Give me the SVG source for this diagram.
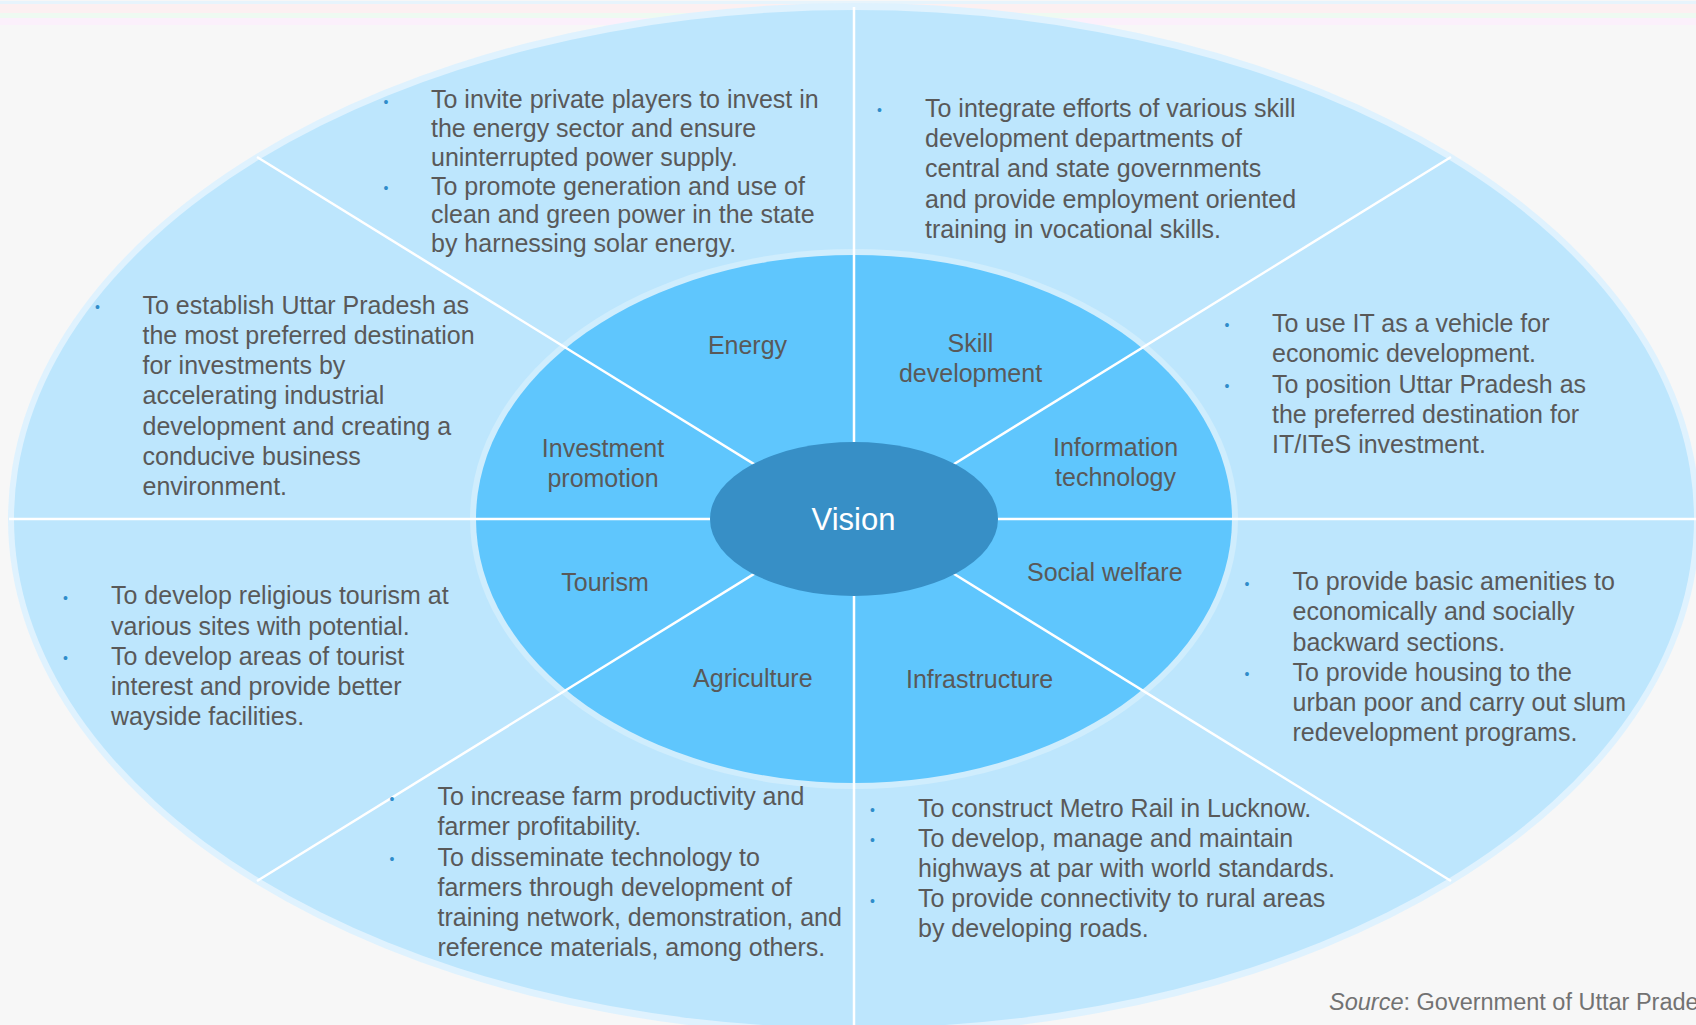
<svg xmlns="http://www.w3.org/2000/svg" width="1696" height="1025" viewBox="0 0 1696 1025">
  <defs>
    <style>
      .body { font-family: "Liberation Sans", Arial, sans-serif; font-size: 25px; fill: #595959; }
      .lbl { font-family: "Liberation Sans", Arial, sans-serif; font-size: 25px; fill: #595959; text-anchor: middle; }
      .dot { font-family: "Liberation Sans", Arial, sans-serif; font-size: 14px; fill: #2f8cca; text-anchor: middle; }
      .divider { stroke: #ffffff; stroke-width: 2.5; fill: none; }
      .src { font-family: "Liberation Sans", Arial, sans-serif; font-size: 23.5px; fill: #727272; }
    </style>
  </defs>

  <!-- page background and header stripes -->
  <rect x="0" y="0" width="1696" height="1025" fill="#f7f7f7"/>
  <rect x="0" y="1" width="1696" height="3" fill="#e7f4fc"/>
  <rect x="0" y="4" width="1696" height="9" fill="#fcf0f1"/>
  <rect x="0" y="13" width="1696" height="5" fill="#eefaf1"/>
  <rect x="0" y="18" width="1696" height="7" fill="#fbf0fb"/>

  <!-- outer ring -->
  <g id="outer-ring">
    <ellipse cx="854" cy="519" rx="846" ry="516" fill="#dff2fe"/>
    <ellipse cx="854" cy="519" rx="840" ry="509" fill="#bde6fd"/>
  </g>

  <!-- middle ring -->
  <g id="middle-ring">
    <ellipse cx="854" cy="519" rx="384" ry="270" fill="#cfedfd"/>
    <ellipse cx="854" cy="519" rx="378" ry="264" fill="#5fc6fd"/>
  </g>

  <!-- sector dividers -->
  <g id="connectors">
    <line class="divider" x1="854" y1="7" x2="854" y2="1025"/>
    <line class="divider" x1="9" y1="519" x2="1696" y2="519"/>
    <line class="divider" x1="257" y1="157" x2="770" y2="474"/>
    <line class="divider" x1="1451" y1="157" x2="938" y2="474"/>
    <line class="divider" x1="257" y1="881" x2="770" y2="564"/>
    <line class="divider" x1="1451" y1="881" x2="938" y2="564"/>
  </g>

  <!-- centre -->
  <g id="vision">
    <ellipse cx="854" cy="519" rx="144" ry="77" fill="#378fc6"/>
    <text x="853.5" y="530" text-anchor="middle" font-family="Liberation Sans, Arial, sans-serif" font-size="31" fill="#ffffff">Vision</text>
  </g>

  <!-- Energy -->
  <g id="energy">
    <text class="lbl" x="747.5" y="354">Energy</text>
    <text class="dot" x="386" y="106.8">•</text>
    <text class="dot" x="386" y="193">•</text>
    <text class="body">
      <tspan x="431" y="108.3">To invite private players to invest in</tspan>
      <tspan x="431" y="137">the energy sector and ensure</tspan>
      <tspan x="431" y="165.7">uninterrupted power supply.</tspan>
      <tspan x="431" y="194.5">To promote generation and use of</tspan>
      <tspan x="431" y="223">clean and green power in the state</tspan>
      <tspan x="431" y="252">by harnessing solar energy.</tspan>
    </text>
  </g>

  <!-- Skill development -->
  <g id="skill-development">
    <text class="lbl" x="970.5" y="351.7">Skill</text>
    <text class="lbl" x="970.5" y="381.7">development</text>
    <text class="dot" x="879.5" y="115.2">•</text>
    <text class="body">
      <tspan x="925" y="116.7">To integrate efforts of various skill</tspan>
      <tspan x="925" y="147">development departments of</tspan>
      <tspan x="925" y="177.3">central and state governments</tspan>
      <tspan x="925" y="207.6">and provide employment oriented</tspan>
      <tspan x="925" y="237.9">training in vocational skills.</tspan>
    </text>
  </g>

  <!-- Investment promotion -->
  <g id="investment-promotion">
    <text class="lbl" x="603" y="456.7">Investment</text>
    <text class="lbl" x="603" y="486.7">promotion</text>
    <text class="dot" x="97.5" y="312">•</text>
    <text class="body">
      <tspan x="142.5" y="313.5">To establish Uttar Pradesh as</tspan>
      <tspan x="142.5" y="343.8">the most preferred destination</tspan>
      <tspan x="142.5" y="374">for investments by</tspan>
      <tspan x="142.5" y="404.3">accelerating industrial</tspan>
      <tspan x="142.5" y="434.6">development and creating a</tspan>
      <tspan x="142.5" y="465">conducive business</tspan>
      <tspan x="142.5" y="495.3">environment.</tspan>
    </text>
  </g>

  <!-- Information technology -->
  <g id="information-technology">
    <text class="lbl" x="1115.5" y="456">Information</text>
    <text class="lbl" x="1115.5" y="486">technology</text>
    <text class="dot" x="1227" y="330.2">•</text>
    <text class="dot" x="1227" y="391">•</text>
    <text class="body">
      <tspan x="1272" y="331.7">To use IT as a vehicle for</tspan>
      <tspan x="1272" y="362">economic development.</tspan>
      <tspan x="1272" y="392.5">To position Uttar Pradesh as</tspan>
      <tspan x="1272" y="423">the preferred destination for</tspan>
      <tspan x="1272" y="453.3">IT/ITeS investment.</tspan>
    </text>
  </g>

  <!-- Tourism -->
  <g id="tourism">
    <text class="lbl" x="605" y="591">Tourism</text>
    <text class="dot" x="65.5" y="602.8">•</text>
    <text class="dot" x="65.5" y="663.2">•</text>
    <text class="body">
      <tspan x="111" y="604.3">To develop religious tourism at</tspan>
      <tspan x="111" y="634.5">various sites with potential.</tspan>
      <tspan x="111" y="664.7">To develop areas of tourist</tspan>
      <tspan x="111" y="695">interest and provide better</tspan>
      <tspan x="111" y="725">wayside facilities.</tspan>
    </text>
  </g>

  <!-- Social welfare -->
  <g id="social-welfare">
    <text class="lbl" x="1104.8" y="580.7">Social welfare</text>
    <text class="dot" x="1247" y="588.5">•</text>
    <text class="dot" x="1247" y="679.3">•</text>
    <text class="body">
      <tspan x="1292.5" y="590">To provide basic amenities to</tspan>
      <tspan x="1292.5" y="620.3">economically and socially</tspan>
      <tspan x="1292.5" y="650.5">backward sections.</tspan>
      <tspan x="1292.5" y="680.8">To provide housing to the</tspan>
      <tspan x="1292.5" y="711">urban poor and carry out slum</tspan>
      <tspan x="1292.5" y="741.3">redevelopment programs.</tspan>
    </text>
  </g>

  <!-- Agriculture -->
  <g id="agriculture">
    <text class="lbl" x="752.8" y="686.7">Agriculture</text>
    <text class="dot" x="392" y="803.5">•</text>
    <text class="dot" x="392" y="864">•</text>
    <text class="body">
      <tspan x="437.5" y="805">To increase farm productivity and</tspan>
      <tspan x="437.5" y="835.2">farmer profitability.</tspan>
      <tspan x="437.5" y="865.5">To disseminate technology to</tspan>
      <tspan x="437.5" y="895.7">farmers through development of</tspan>
      <tspan x="437.5" y="926">training network, demonstration, and</tspan>
      <tspan x="437.5" y="956">reference materials, among others.</tspan>
    </text>
  </g>

  <!-- Infrastructure -->
  <g id="infrastructure">
    <text class="lbl" x="979.6" y="687.7">Infrastructure</text>
    <text class="dot" x="872.5" y="815.2">•</text>
    <text class="dot" x="872.5" y="845.3">•</text>
    <text class="dot" x="872.5" y="905.7">•</text>
    <text class="body">
      <tspan x="918" y="816.7">To construct Metro Rail in Lucknow.</tspan>
      <tspan x="918" y="846.8">To develop, manage and maintain</tspan>
      <tspan x="918" y="877">highways at par with world standards.</tspan>
      <tspan x="918" y="907.2">To provide connectivity to rural areas</tspan>
      <tspan x="918" y="937.4">by developing roads.</tspan>
    </text>
  </g>

  <!-- source note -->
  <text class="src" x="1329" y="1010"><tspan font-style="italic">Source</tspan>: Government of Uttar Prade</text>
</svg>
